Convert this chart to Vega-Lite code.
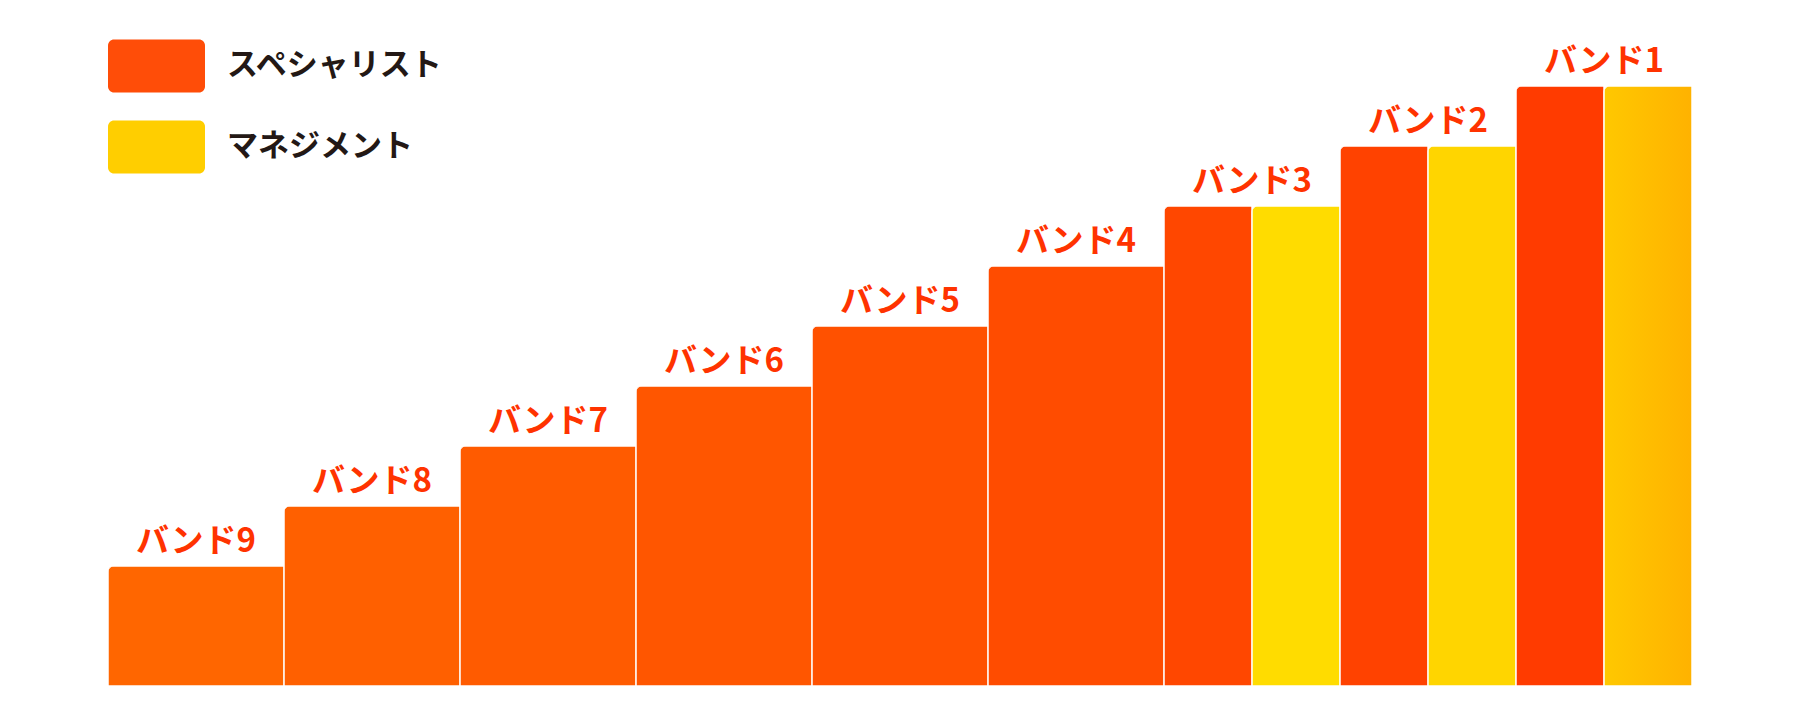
{
  "$schema": "https://vega.github.io/schema/vega-lite/v6.json",
  "width": 1584,
  "height": 660,
  "autosize": {"type": "none"},
  "padding": {"left": 108, "top": 26, "right": 108, "bottom": 40},
  "background": "#ffffff",
  "config": {"view": {"stroke": null}, "font": "Noto Sans CJK JP"},
  "data": {
    "values": [
      {"band": "バンド9", "series": "スペシャリスト", "value": 2},
      {"band": "バンド8", "series": "スペシャリスト", "value": 3},
      {"band": "バンド7", "series": "スペシャリスト", "value": 4},
      {"band": "バンド6", "series": "スペシャリスト", "value": 5},
      {"band": "バンド5", "series": "スペシャリスト", "value": 6},
      {"band": "バンド4", "series": "スペシャリスト", "value": 7},
      {"band": "バンド3", "series": "スペシャリスト", "value": 8},
      {"band": "バンド3", "series": "マネジメント", "value": 8},
      {"band": "バンド2", "series": "スペシャリスト", "value": 9},
      {"band": "バンド2", "series": "マネジメント", "value": 9},
      {"band": "バンド1", "series": "スペシャリスト", "value": 10},
      {"band": "バンド1", "series": "マネジメント", "value": 10}
    ]
  },
  "encoding": {
    "x": {
      "field": "band",
      "type": "nominal",
      "sort": ["バンド9", "バンド8", "バンド7", "バンド6", "バンド5", "バンド4", "バンド3", "バンド2", "バンド1"],
      "scale": {"paddingInner": 0, "paddingOuter": 0},
      "axis": null
    },
    "y": {
      "field": "value",
      "type": "quantitative",
      "scale": {"domain": [0, 11], "nice": false},
      "axis": null
    }
  },
  "layer": [
    {
      "transform": [{"filter": {"field": "band", "oneOf": ["バンド4", "バンド5", "バンド6", "バンド7", "バンド8", "バンド9"]}}],
      "mark": {"type": "bar", "cornerRadiusTopLeft": 6, "stroke": "#ffffff", "strokeWidth": 1},
      "encoding": {
        "color": {
          "field": "series",
          "type": "nominal",
          "scale": {
            "domain": ["スペシャリスト", "マネジメント"],
            "range": ["#ff4d08", "#ffce00"]
          },
          "legend": {
            "title": null,
            "orient": "none",
            "legendX": 0,
            "legendY": 13,
            "direction": "vertical",
            "padding": 0,
            "symbolType": "M-0.876,-0.546H0.876A0.124,0.124,0,0,1,1,-0.422V0.422A0.124,0.124,0,0,1,0.876,0.546H-0.876A0.124,0.124,0,0,1,-1,0.422V-0.422A0.124,0.124,0,0,1,-0.876,-0.546Z",
            "symbolSize": 9409,
            "symbolStrokeWidth": 0,
            "symbolOpacity": 1,
            "clipHeight": 54,
            "rowPadding": 27,
            "labelOffset": 22,
            "labelFontSize": 31,
            "labelFont": "Noto Sans CJK JP",
            "labelFontWeight": "bold",
            "labelColor": "#231815",
            "labelLimit": 400
          },
          "condition": [
            {"test": "datum.band === 'バンド9'", "value": "#ff6600"},
            {"test": "datum.band === 'バンド8'", "value": "#ff6000"},
            {"test": "datum.band === 'バンド7'", "value": "#ff5b00"},
            {"test": "datum.band === 'バンド6'", "value": "#ff5600"},
            {"test": "datum.band === 'バンド5'", "value": "#ff5100"},
            {"test": "datum.band === 'バンド4'", "value": "#ff4c00"}
          ]
        }
      }
    },
    {
      "transform": [{"filter": {"field": "band", "oneOf": ["バンド1", "バンド2", "バンド3"]}}],
      "mark": {"type": "bar", "cornerRadiusTopLeft": 6, "stroke": "#ffffff", "strokeWidth": 1},
      "encoding": {
        "xOffset": {
          "field": "series",
          "type": "nominal",
          "sort": ["スペシャリスト", "マネジメント"],
          "scale": {"paddingInner": 0, "paddingOuter": 0}
        },
        "color": {
          "field": "series",
          "type": "nominal",
          "condition": [
            {"test": "datum.series === 'マネジメント' && datum.band === 'バンド1'", "value": {"gradient": "linear", "x1": 0, "y1": 0, "x2": 1, "y2": 0, "stops": [{"offset": 0, "color": "#ffc800"}, {"offset": 1, "color": "#ffb200"}]}},
            {"test": "datum.series === 'マネジメント' && datum.band === 'バンド2'", "value": "#ffd500"},
            {"test": "datum.series === 'マネジメント'", "value": "#ffdc00"},
            {"test": "datum.band === 'バンド3'", "value": "#ff4700"},
            {"test": "datum.band === 'バンド2'", "value": "#ff4200"},
            {"test": "datum.band === 'バンド1'", "value": "#ff3b00"}
          ]
        }
      }
    },
    {
      "transform": [{"filter": "datum.series === 'スペシャリスト'"}],
      "mark": {
        "type": "text",
        "baseline": "alphabetic",
        "align": "center",
        "dy": -14,
        "fontSize": 33,
        "fontWeight": "bold",
        "font": "Noto Sans CJK JP",
        "color": "#ff3300"
      },
      "encoding": {"text": {"field": "band"}}
    }
  ]
}
